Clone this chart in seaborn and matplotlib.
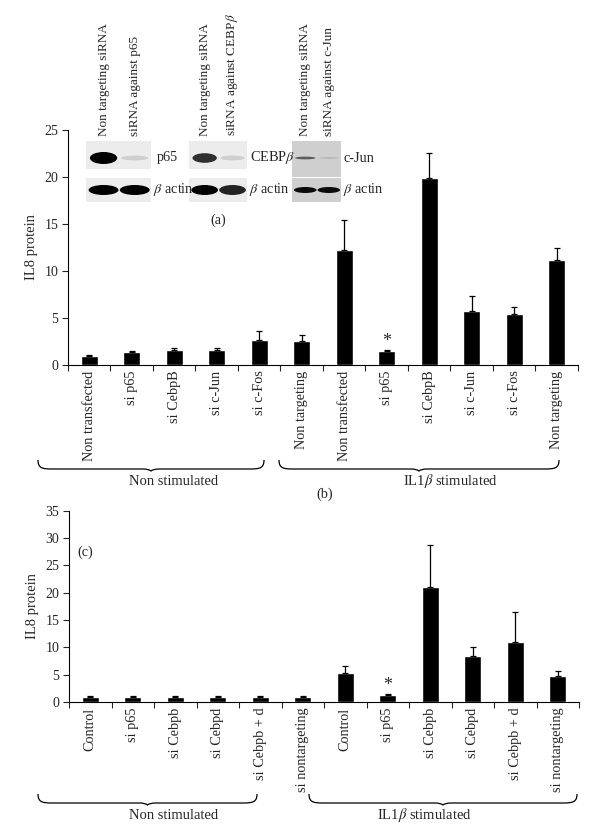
import numpy as np
import pandas as pd
import matplotlib
matplotlib.use("Agg")
import matplotlib.pyplot as plt
import seaborn as sns
from matplotlib.patches import Rectangle, Ellipse, PathPatch
from matplotlib.path import Path

# ---- data: panel (b) ----
b_labels = ["Non transfected", "si p65", "si CebpB", "si c-Jun", "si c-Fos",
            "Non targeting", "Non transfected", "si p65", "si CebpB",
            "si c-Jun", "si c-Fos", "Non targeting"]
b_values = [1.0, 1.35, 1.6, 1.63, 2.62, 2.52, 12.2, 1.49, 19.9, 5.78, 5.39, 11.14]
b_errors = [0.05, 0.15, 0.25, 0.22, 1.03, 0.67, 3.2, 0.1, 2.7, 1.52, 0.81, 1.36]

# ---- data: panel (c) ----
c_labels = ["Control", "si p65", "si Cebpb", "si Cebpd", "si Cebpb + d",
            "si nontargeting", "Control", "si p65", "si Cebpb", "si Cebpd",
            "si Cebpb + d", "si nontargeting"]
c_values = [1.0, 1.0, 1.0, 1.0, 1.0, 1.0, 5.35, 1.3, 20.96, 8.47, 10.9, 4.68]
c_errors = [0.05, 0.05, 0.05, 0.05, 0.05, 0.05, 1.15, 0.2, 7.7, 1.6, 5.6, 0.97]

# ---- western blot insets (band intensity, 0..1) ----
blot_targets = ["p65", r"CEBP$\beta$", "c-Jun"]
blot_lanes = [["Non targeting siRNA", "siRNA against p65"],
              ["Non targeting siRNA", r"siRNA against CEBP$\beta$"],
              ["Non targeting siRNA", "siRNA against c-Jun"]]
target_bands = [[1.0, 0.12], [0.8, 0.12], [0.55, 0.1]]
actin_bands = [[1.0, 1.0], [1.0, 0.85], [0.95, 0.95]]

sns.set_theme(style="ticks")
plt.rcParams["font.family"] = ["Liberation Serif", "DejaVu Serif"]
plt.rcParams["mathtext.fontset"] = "stix"
plt.rcParams["font.size"] = 10

fig = plt.figure(figsize=(6, 8.3), dpi=100)
ax_b = fig.add_axes([0.1133, 0.5602, 0.85, 0.2831])
ax_c = fig.add_axes([0.115, 0.1542, 0.85, 0.2307])


def bar_panel(ax, labels, values, errors, ymax, ystep, star_idx):
    df = pd.DataFrame({"pos": np.arange(len(values)), "val": values})
    sns.barplot(data=df, x="pos", y="val", color="black", width=0.4,
                errorbar=None, ax=ax, saturation=1)
    ax.errorbar(df["pos"], df["val"], yerr=[np.zeros(len(errors)), errors],
                fmt="none", ecolor="black", elinewidth=0.9, capsize=2.5,
                capthick=0.9)
    n = len(values)
    ax.set_xlim(-0.5, n - 0.5)
    ax.set_ylim(0, ymax)
    # ticks sit between bars, labels under the bars
    ax.set_xticks(np.arange(n + 1) - 0.5)
    ax.set_xticklabels([])
    ax.set_xticks(np.arange(n), minor=True)
    ax.set_xticklabels(labels, minor=True, rotation=90, va="top", fontsize=10.3)
    ax.tick_params(axis="x", which="minor", length=0, pad=4)
    ax.tick_params(axis="x", which="major", length=4, width=0.8, direction="out")
    ax.set_yticks(np.arange(0, ymax + 1, ystep))
    ax.tick_params(axis="y", length=4, width=0.8, labelsize=10, pad=3)
    ax.set_xlabel("")
    ax.set_ylabel("IL8 protein", fontsize=10.5)
    ax.yaxis.set_label_coords(-0.058, 0.5)
    sns.despine(ax=ax)
    for s in ["left", "bottom"]:
        ax.spines[s].set_linewidth(0.8)
        ax.spines[s].set_color("black")
    ax.text(star_idx, values[star_idx] + errors[star_idx], "*",
            ha="center", va="bottom", fontsize=13)


bar_panel(ax_b, b_labels, b_values, b_errors, 25, 5, 7)
bar_panel(ax_c, c_labels, c_values, c_errors, 35, 5, 7)

# ---- overlay in pixel coordinates for blots, braces and captions ----
ov = fig.add_axes([0, 0, 1, 1], zorder=5)
ov.set_xlim(0, 600)
ov.set_ylim(830, 0)
ov.axis("off")
ov.patch.set_alpha(0)

blot_x = [86, 189, 292]
blot_w = [65, 58, 49]
blot_bg = ["#ececec", "#ececec", "#cfcfcf"]
for i in range(3):
    x0, w = blot_x[i], blot_w[i]
    top_h = 36 if i == 2 else 28
    ov.add_patch(Rectangle((x0, 141), w, top_h, color=blot_bg[i], lw=0))
    ov.add_patch(Rectangle((x0, 178), w, 24, color=blot_bg[i], lw=0))
    for j in range(2):
        cx = x0 + w * (0.27 + 0.48 * j)
        bh = 5 if i == 2 else 12
        ov.add_patch(Ellipse((cx, 158), w * 0.42, bh * max(target_bands[i][j], 0.4),
                             color="black", alpha=target_bands[i][j], lw=0))
        ov.add_patch(Ellipse((cx, 190), w * 0.46, 10 if i < 2 else 6,
                             color="black", alpha=actin_bands[i][j], lw=0))
        ov.text(cx, 136, blot_lanes[i][j], rotation=90,
                ha="center", va="bottom", fontsize=9.5)
    ov.text(x0 + w + (6 if i == 0 else 3), 158, blot_targets[i],
            ha="left", va="center", fontsize=10.3)
    ov.text(x0 + w + 2, 190, r"$\beta$ actin", ha="left", va="center", fontsize=10.3)
ov.text(218, 220, "(a)", ha="center", va="center", fontsize=10.3)


def brace(x0, x1, ytop, ybot):
    xm = (x0 + x1) / 2
    verts = [(x0, ytop), (x0, ybot - 1), (x0 + 4, ybot), (x0 + 14, ybot),
             (xm - 8, ybot), (xm - 2, ybot), (xm, ybot + 2),
             (xm + 2, ybot), (xm + 8, ybot), (x1 - 14, ybot),
             (x1 - 4, ybot), (x1, ybot - 1), (x1, ytop)]
    codes = [Path.MOVETO, Path.CURVE4, Path.CURVE4, Path.CURVE4,
             Path.LINETO, Path.CURVE3, Path.CURVE3,
             Path.CURVE3, Path.CURVE3, Path.LINETO,
             Path.CURVE4, Path.CURVE4, Path.CURVE4]
    ov.add_patch(PathPatch(Path(verts, codes), fill=False, lw=0.9, color="black"))


brace(38, 264, 460, 469)
brace(279, 559, 460, 469)
ov.text(174, 481, "Non stimulated", ha="center", va="center", fontsize=10.5)
ov.text(450, 481, r"IL1$\beta$ stimulated", ha="center", va="center", fontsize=10.5)
ov.text(325, 494, "(b)", ha="center", va="center", fontsize=10.3)

brace(38, 257, 794, 803)
brace(309, 577, 794, 803)
ov.text(174, 815, "Non stimulated", ha="center", va="center", fontsize=10.5)
ov.text(424, 815, r"IL1$\beta$ stimulated", ha="center", va="center", fontsize=10.5)
ov.text(85, 552, "(c)", ha="center", va="center", fontsize=10.3)

fig.savefig("out.png", dpi=100)
